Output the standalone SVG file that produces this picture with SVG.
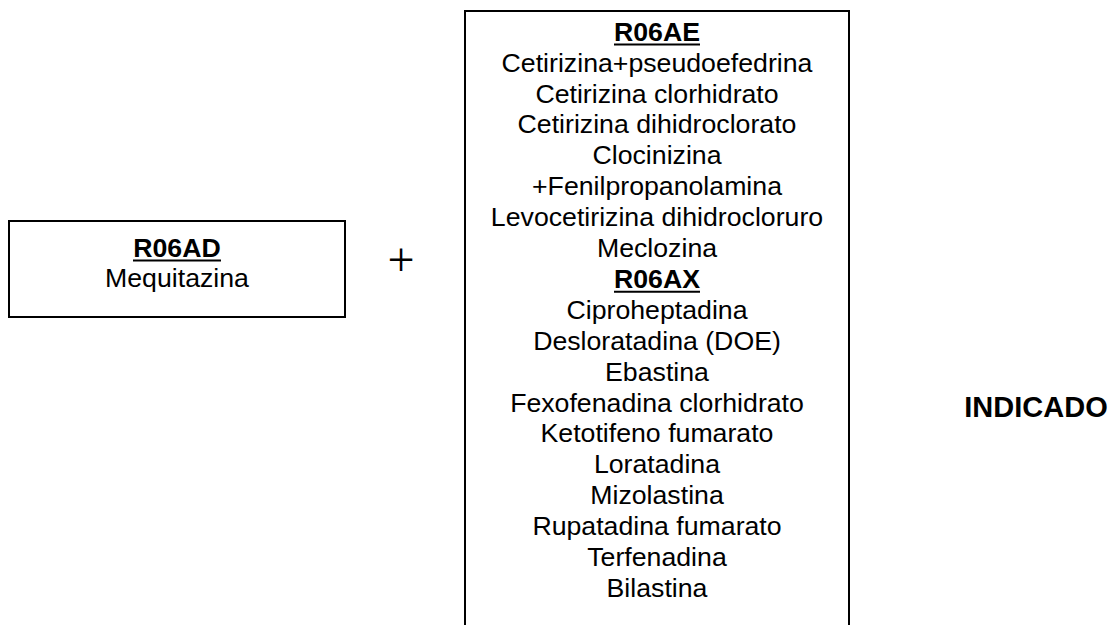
<svg xmlns="http://www.w3.org/2000/svg" width="1117" height="625" viewBox="0 0 1117 625">
<style>
.box{fill:#fff;stroke:#000;stroke-width:2}
.t{font-family:"Liberation Sans",Arial,sans-serif;font-size:26.7px;fill:#000;text-anchor:middle}
.b{font-weight:bold}
.u{stroke:#000;stroke-width:2}
</style>
<rect width="1117" height="625" fill="#fff"/>
<g id="node-r06ad">
<rect class="box" x="9" y="221" width="336" height="96"/>
<text class="t b" x="177" y="256.7">R06AD</text>
<line class="u" x1="133" y1="260.5" x2="221" y2="260.5"/>
<text class="t" x="177" y="286.7">Mequitazina</text>
</g>
<g id="node-plus">
<text x="401" y="275.5" font-family="Liberation Serif,serif" font-size="48" text-anchor="middle" fill="#000">+</text>
</g>
<g id="node-r06ae-ax">
<rect class="box" x="465" y="11" width="384" height="640"/>
<text class="t b" x="657" y="40.7">R06AE</text>
<line class="u" x1="614" y1="44.5" x2="700" y2="44.5"/>
<text class="t" x="657" y="71.6">Cetirizina+pseudoefedrina</text>
<text class="t" x="657" y="102.5">Cetirizina clorhidrato</text>
<text class="t" x="657" y="133.4">Cetirizina dihidroclorato</text>
<text class="t" x="657" y="164.3">Clocinizina</text>
<text class="t" x="657" y="195.2">+Fenilpropanolamina</text>
<text class="t" x="657" y="226.1">Levocetirizina dihidrocloruro</text>
<text class="t" x="657" y="257">Meclozina</text>
<text class="t b" x="657" y="287.9">R06AX</text>
<line class="u" x1="614" y1="291.7" x2="700" y2="291.7"/>
<text class="t" x="657" y="318.8">Ciproheptadina</text>
<text class="t" x="657" y="349.7">Desloratadina (DOE)</text>
<text class="t" x="657" y="380.6">Ebastina</text>
<text class="t" x="657" y="411.5">Fexofenadina clorhidrato</text>
<text class="t" x="657" y="442.4">Ketotifeno fumarato</text>
<text class="t" x="657" y="473.3">Loratadina</text>
<text class="t" x="657" y="504.2">Mizolastina</text>
<text class="t" x="657" y="535.1">Rupatadina fumarato</text>
<text class="t" x="657" y="566">Terfenadina</text>
<text class="t" x="657" y="596.9">Bilastina</text>
</g>
<g id="node-indicado">
<text class="t b" x="1036" y="416.5" style="font-size:29px">INDICADO</text>
</g>
<g id="connectors"></g>
</svg>
